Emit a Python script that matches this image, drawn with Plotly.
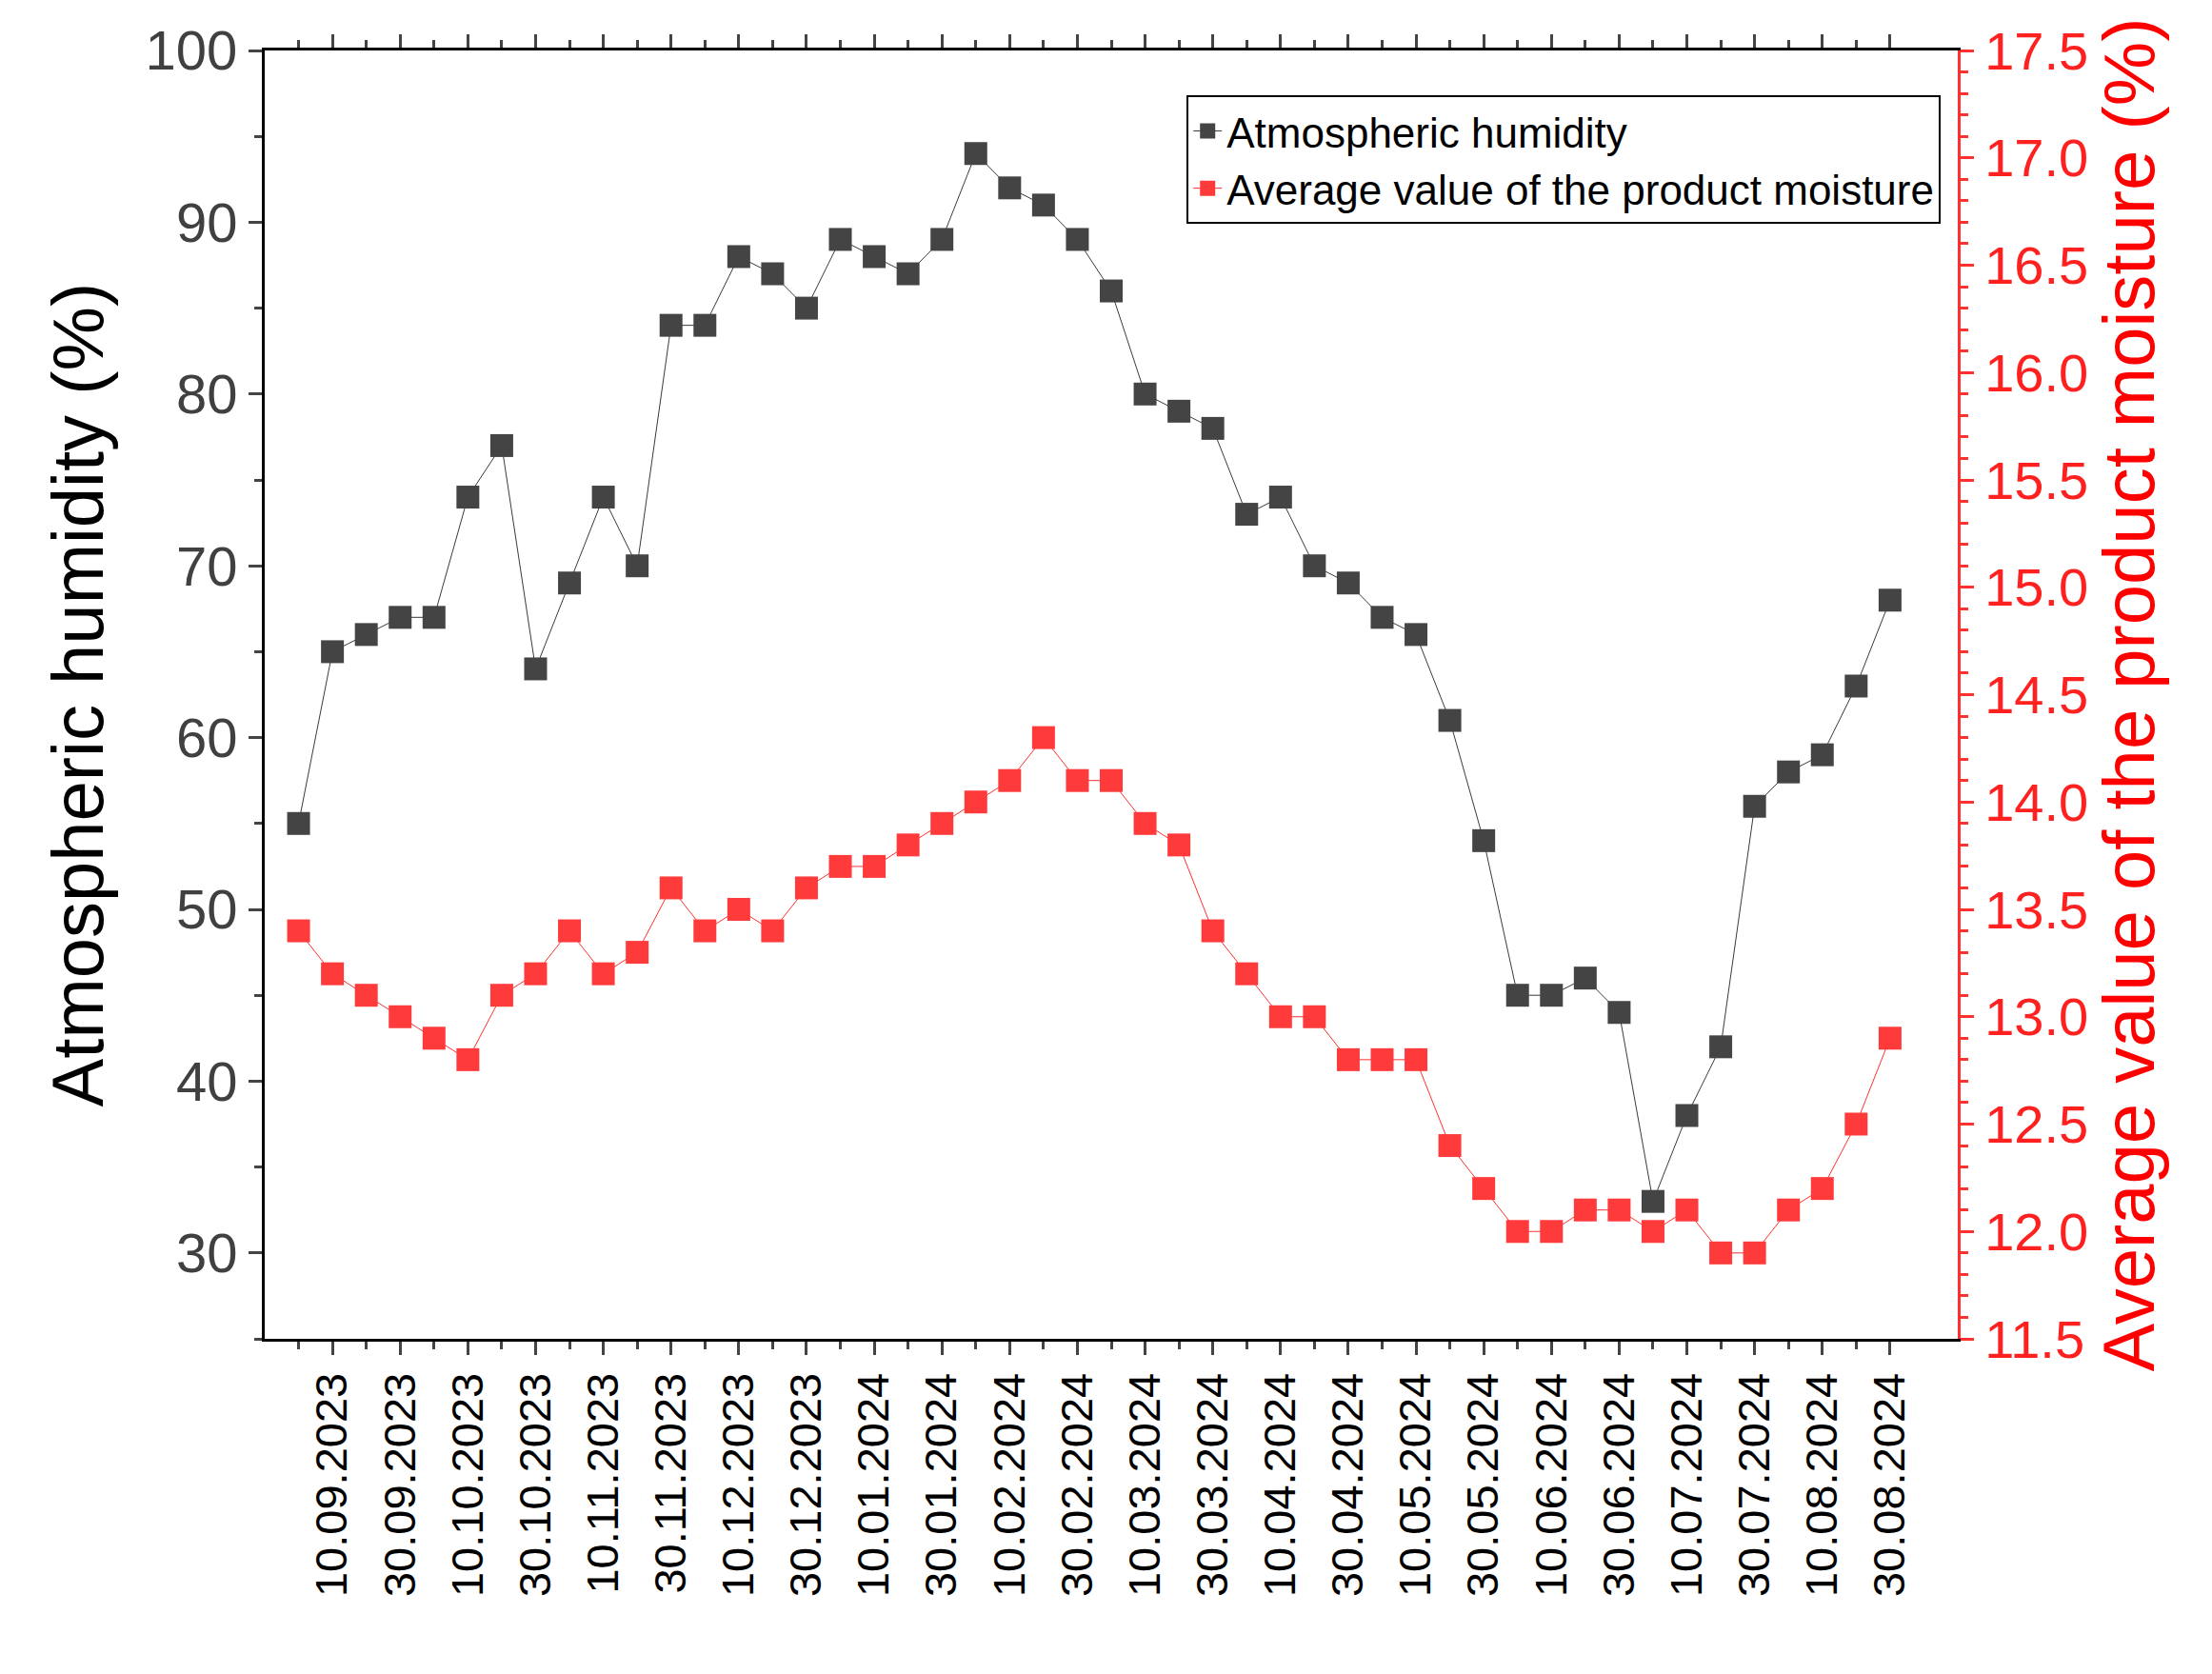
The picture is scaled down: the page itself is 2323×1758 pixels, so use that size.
import plotly.graph_objects as go

labels = ["10.09.2023","30.09.2023","10.10.2023","30.10.2023","10.11.2023","30.11.2023",
          "10.12.2023","30.12.2023","10.01.2024","30.01.2024","10.02.2024","30.02.2024",
          "10.03.2024","30.03.2024","10.04.2024","30.04.2024","10.05.2024","30.05.2024",
          "10.06.2024","30.06.2024","10.07.2024","30.07.2024","10.08.2024","30.08.2024"]
humidity = [55,65,66,67,67,74,77,64,69,74,70,84,84,88,87,85,89,88,87,89,94,92,91,89,86,
            80,79,78,73,74,70,69,67,66,61,54,45,45,46,44,33,38,42,56,58,59,63,68]
moisture = [13.4,13.2,13.1,13.0,12.9,12.8,13.1,13.2,13.4,13.2,13.3,13.6,13.4,13.5,13.4,13.6,
            13.7,13.7,13.8,13.9,14.0,14.1,14.3,14.1,14.1,13.9,13.8,13.4,13.2,13.0,13.0,12.8,
            12.8,12.8,12.4,12.2,12.0,12.0,12.1,12.1,12.0,12.1,11.9,11.9,12.1,12.2,12.5,12.9]
x = list(range(len(humidity)))
tickpos = list(range(1, len(humidity), 2))
F = "Liberation Sans, Arial, sans-serif"

fig = go.Figure()
fig.add_trace(go.Scatter(x=x, y=humidity, name="Atmospheric humidity", mode="lines+markers",
    line=dict(color="#3a3a3a", width=1), marker=dict(symbol="square", size=24, color="#444444")))
fig.add_trace(go.Scatter(x=x, y=moisture, name="Average value of the product moisture", yaxis="y2",
    mode="lines+markers", line=dict(color="#ff3030", width=1),
    marker=dict(symbol="square", size=24, color="#ff3a3a")))

fig.update_layout(
    width=2323, height=1758, plot_bgcolor="white", paper_bgcolor="white",
    margin=dict(l=270, r=275, t=42, b=360),
    font=dict(family=F, size=46, color="#404040"),
    xaxis=dict(range=[-1, 49], tickvals=tickpos, ticktext=labels, tickangle=-90,
               tickfont=dict(size=47, color="black"), showgrid=False, zeroline=False,
               showline=True, linecolor="black", linewidth=3, ticks="outside", ticklen=14,
               tickwidth=3, mirror="ticks",
               minor=dict(tickvals=x, ticks="outside", ticklen=8, tickwidth=3)),
    yaxis=dict(range=[25, 100], tickvals=[30,40,50,60,70,80,90,100], showgrid=False,
               zeroline=False, showline=True, linecolor="black", linewidth=3, ticks="outside",
               ticklen=14, tickwidth=3, tickfont=dict(size=58, color="#404040"),
               minor=dict(dtick=5, ticks="outside", ticklen=8, tickwidth=3),
               title=dict(text="Atmospheric humidity (%)", standoff=20,
                          font=dict(size=76, color="black"))),
    yaxis2=dict(range=[11.5, 17.5], dtick=0.5, tickformat=".1f", overlaying="y", side="right",
                showgrid=False, zeroline=False, showline=True, linecolor="#ff3030", linewidth=3,
                ticks="outside", ticklen=14, tickwidth=3, tickcolor="#ff3030",
                tickfont=dict(size=56, color="#ff2020"),
                minor=dict(dtick=0.1, ticks="outside", ticklen=8, tickwidth=3, tickcolor="#ff3030"),
                title=dict(text="Average value of the product moisture (%)", standoff=15,
                           font=dict(size=76, color="#ff0000"))),
    legend=dict(x=0.99, y=0.965, xanchor="right", yanchor="top", bgcolor="white",
                bordercolor="black", borderwidth=2, font=dict(size=44, color="black")),
)
fig.write_html("out.html")
